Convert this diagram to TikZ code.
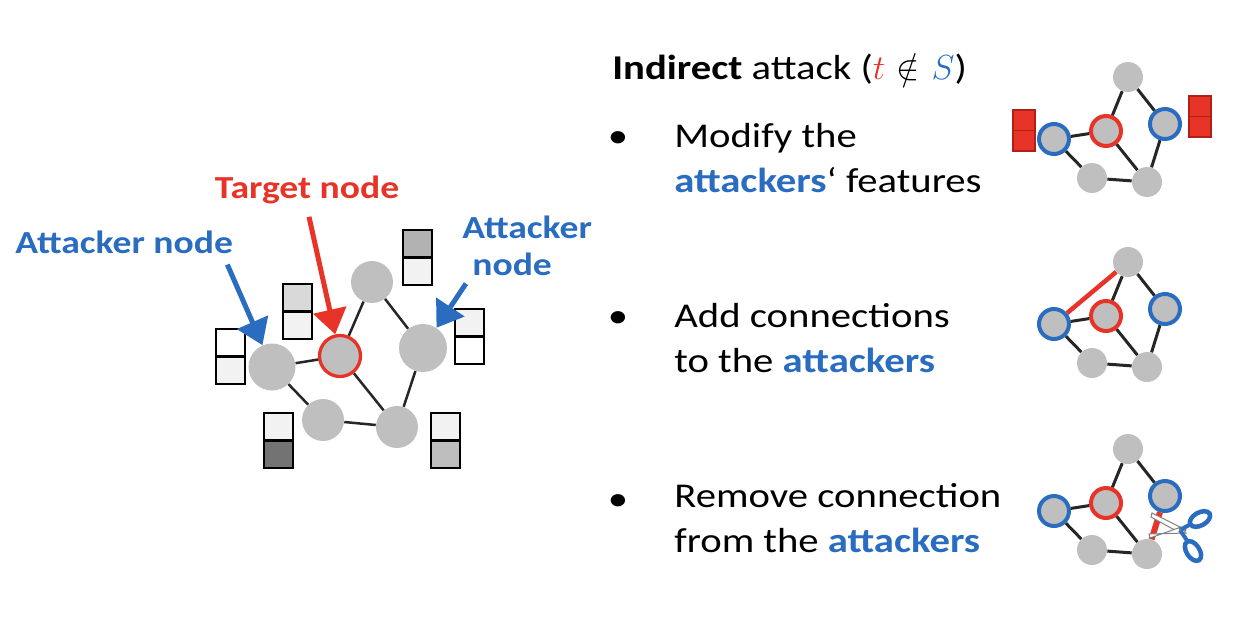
\RequirePackage{fix-cm}
\documentclass[tikz,border=0pt]{standalone}
\usepackage{fontspec}
\setmainfont{Carlito}[FakeStretch=1.17]
\usetikzlibrary{calc, positioning, arrows.meta}

\definecolor{attred}{RGB}{232,52,40}
\definecolor{attblue}{RGB}{42,108,192}
\definecolor{nodegray}{RGB}{191,191,191}
\definecolor{cellA}{RGB}{242,242,242}
\definecolor{cellB}{RGB}{217,217,217}
\definecolor{cellC}{RGB}{178,178,178}
\definecolor{cellD}{RGB}{115,115,115}
\definecolor{cellE}{RGB}{190,190,190}
\definecolor{featred}{RGB}{176,32,24}

\newcommand\itemfont{\fontsize{19.8}{25.6}\selectfont}
\newcommand\labfont{\fontsize{18.3}{21}\selectfont\bfseries}

\tikzset{
  gnode/.style={circle, fill=nodegray, inner sep=0pt},
  tnode/.style={gnode, draw=attred},
  anode/.style={gnode, draw=attblue},
  link/.style={draw=black!85, line width=0.05cm},
  slink/.style={draw=black!85, line width=0.06cm},
  addlink/.style={draw=attred, line width=0.09cm},
  cutlink/.style={draw=attred, line width=0.12cm},
  pointer/.style={-{Triangle[width=0.66cm,length=0.5cm]}, line width=0.1cm},
  lab/.style={font=\labfont, inner sep=0pt},
  itemtxt/.style={font=\itemfont, align=left, anchor=base west, inner sep=0pt},
}

\begin{document}
\begin{tikzpicture}[x=0.02cm, y=-0.02cm, every node/.style={inner sep=1pt}]
\useasboundingbox (0,0) rectangle (1252,616);

    % 1. left graph
    \node[gnode, minimum size=0.94cm] (attL) at (272,367) {};
    \node[tnode, minimum size=0.82cm, line width=0.066cm] (tgt) at (340,356) {};
    \node[gnode, minimum size=0.84cm] (top) at (372,282) {};
    \node[gnode, minimum size=0.96cm] (attR) at (423,348) {};
    \node[gnode, minimum size=0.84cm] (botL) at (323,420) {};
    \node[gnode, minimum size=0.84cm] (botR) at (397,427) {};
    \foreach \a/\b in {attL/tgt, attL/botL, botL/botR, tgt/botR, tgt/top, top/attR, attR/botR}
        \draw[link] (\a) -- (\b);

    % 2. feature boxes (two cells each)
    \foreach \x/\y/\ca/\cb in {216/329/white/cellA, 283/284/cellB/cellA, 403/230/cellC/cellA,
                               455/309/cellA/white, 264/413/cellA/cellD, 431/413/cellA/cellE} {
        \filldraw[fill=\ca, line width=0.05cm] (\x,\y) rectangle ++(29,27.5);
        \filldraw[fill=\cb, line width=0.05cm] (\x,\y+27.5) rectangle ++(29,27.5);
    }

    % 3. labels and pointers
    \node[lab, attred, anchor=base] (tlab) at (307,198) {Target node};
    \node[lab, attblue, anchor=base west] (alab) at (15,253) {Attacker node};
    \node[lab, attblue, align=left, anchor=base west] (rlab) at (462,275) {Attacker\\\hspace*{0.2cm}node};
    \draw[pointer, attred] ($(tlab.south)+(2,13)$) -- (tgt);
    \draw[pointer, attblue] ($(alab.south east)+(-6,11)$) -- (attL);
    \draw[pointer, attblue] ($(rlab.south west)+(4,8)$) -- (attR);

    % 4. heading and bullet items
    \node[font=\itemfont, anchor=base west, inner sep=0pt] (head) at (612,79)
        {\textbf{Indirect} attack (\textcolor{attred}{$t$}\,\,$\notin$\,\,\textcolor{attblue}{$S$})};
    \foreach \i/\yy in {1/147, 2/327, 3/510}
        \node[font=\itemfont, anchor=base, inner sep=0pt] (bul\i) at (618,\yy) {\textbullet};
    \node[itemtxt] (modtxt) at (674,192) {Modify the\\\textcolor{attblue}{\textbf{attackers}}‘ features};
    \node[itemtxt] (addtxt) at (674,372) {Add connections\\to the \textcolor{attblue}{\textbf{attackers}}};
    \node[itemtxt] (remtxt) at (674,552) {Remove connection\\from the \textcolor{attblue}{\textbf{attackers}}};

    % 5. small graphs on the right
    \foreach \g/\yy/\last in {mod/77/slink, add/262/slink, rem/449/cutlink} {
        \node[gnode, minimum size=0.6cm] (\g-top) at (1128,\yy) {};
        \node[tnode, minimum size=0.6cm, line width=0.08cm] (\g-tgt) at (1106,\yy+54) {};
        \node[anode, minimum size=0.6cm, line width=0.08cm] (\g-attL) at (1054,\yy+62) {};
        \node[anode, minimum size=0.6cm, line width=0.08cm] (\g-attR) at (1165,\yy+47) {};
        \node[gnode, minimum size=0.6cm] (\g-botL) at (1092,\yy+101) {};
        \node[gnode, minimum size=0.6cm] (\g-botR) at (1147,\yy+105) {};
        \foreach \a/\b in {attL/tgt, attL/botL, botL/botR, tgt/botR, tgt/top, top/attR}
            \draw[slink] (\g-\a) -- (\g-\b);
        \draw[\last] (\g-attR) -- (\g-botR);
    }

    % red features of the attackers
    \foreach \x/\y in {1013/110, 1189/96} {
        \filldraw[fill=attred, draw=featred, line width=0.03cm] (\x,\y) rectangle ++(22,20.5);
        \filldraw[fill=attred, draw=featred, line width=0.03cm] (\x,\y+20.5) rectangle ++(22,20.5);
    }

    % added connection
    \draw[addlink] (add-attL) -- (add-top);

    % scissors
    \filldraw[fill=white, draw=gray, line width=0.02cm] (1186,530) -- (1152,513) -- (1151,517) -- (1182,534) -- cycle;
    \filldraw[fill=white, draw=gray, line width=0.02cm] (1186,533) -- (1149,534) -- (1150,538) -- (1181,527) -- cycle;
    \draw[attblue, line width=0.08cm] (1180,530) -- (1191,524) (1180,530) -- (1188,542);
    \draw[attblue, line width=0.09cm, fill=white] (1200,519) ellipse [x radius=11, y radius=6.5, rotate=29];
    \draw[attblue, line width=0.09cm, fill=white] (1193,551) ellipse [x radius=11, y radius=6.5, rotate=-57];
    \fill[gray] (1180,530) circle [radius=1.5];

\end{tikzpicture}
\end{document}
